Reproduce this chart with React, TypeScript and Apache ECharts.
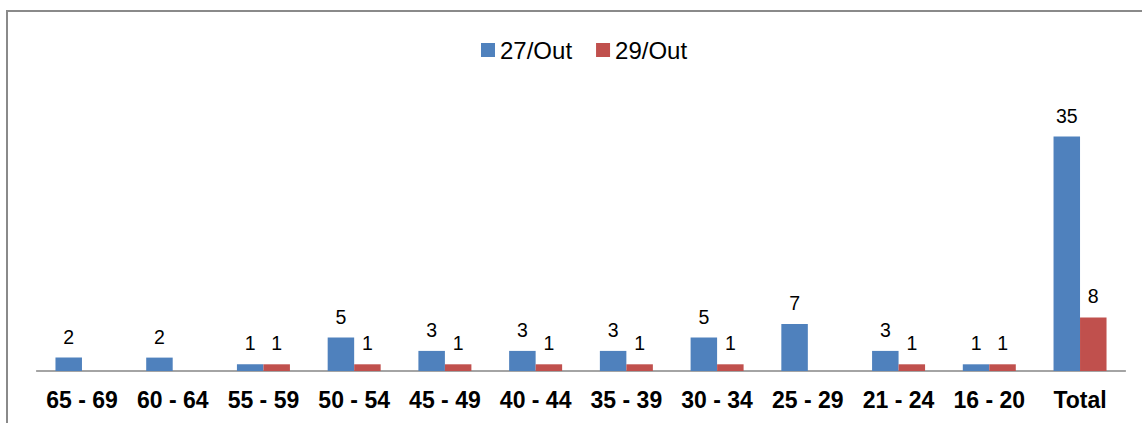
import React, { useEffect, useRef } from "react";
import * as echarts from "echarts";

const categories = ["65 - 69", "60 - 64", "55 - 59", "50 - 54", "45 - 49", "40 - 44", "35 - 39", "30 - 34", "25 - 29", "21 - 24", "16 - 20", "Total"];
const seriesNames = ["27/Out", "29/Out"];
const out27 = [2, 2, 1, 5, 3, 3, 3, 5, 7, 3, 1, 35];
const out29 = [0, 0, 1, 1, 1, 1, 1, 1, 0, 1, 1, 8];
const colors = ["#4F81BD", "#C0504D"];

const FONT = '"Liberation Sans", Arial, sans-serif';

export default function App() {
  const ref = useRef<HTMLDivElement>(null);
  useEffect(() => {
    if (!ref.current) return;
    const chart = echarts.init(ref.current, null, { renderer: "svg" });
    const label = {
      show: true,
      position: "top",
      distance: 11,
      color: "#000",
      fontSize: 19.5,
      fontFamily: FONT,
      formatter: (p: any) => (p.value ? String(p.value) : ""),
    };
    chart.setOption({
      animation: false,
      backgroundColor: "#fff",
      textStyle: { fontFamily: FONT },
      graphic: [
        {
          type: "rect",
          shape: { x: 7, y: 11, width: 1200, height: 500 },
          style: { fill: "none", stroke: "#8a8a8a", lineWidth: 2 },
          silent: true,
        },
      ],
      legend: {
        data: seriesNames,
        left: 476,
        top: 33,
        itemWidth: 14,
        itemHeight: 14,
        itemGap: 24,
        icon: "rect",
        textStyle: { fontSize: 24, color: "#000", fontFamily: FONT },
      },
      grid: { left: 36.6, right: 16.6, top: 103, bottom: 52, containLabel: false },
      xAxis: {
        type: "category",
        data: categories,
        axisLine: { show: true, lineStyle: { color: "#868686", width: 1.5 } },
        axisTick: { show: false },
        axisLabel: {
          interval: 0,
          margin: 17,
          fontSize: 23,
          fontWeight: "bold",
          color: "#000",
          fontFamily: FONT,
        },
      },
      yAxis: {
        type: "value",
        min: 0,
        max: 40,
        show: false,
        splitLine: { show: false },
      },
      series: [
        {
          name: seriesNames[0],
          type: "bar",
          data: out27,
          barWidth: 26.5,
          barGap: "0%",
          itemStyle: { color: colors[0] },
          label,
        },
        {
          name: seriesNames[1],
          type: "bar",
          data: out29,
          barWidth: 26.5,
          barGap: "0%",
          itemStyle: { color: colors[1] },
          label,
        },
      ],
    });
    return () => chart.dispose();
  }, []);
  return (
    <div
      ref={ref}
      style={{ position: "absolute", left: 0, top: 0, width: 1142, height: 423 }}
    />
  );
}
